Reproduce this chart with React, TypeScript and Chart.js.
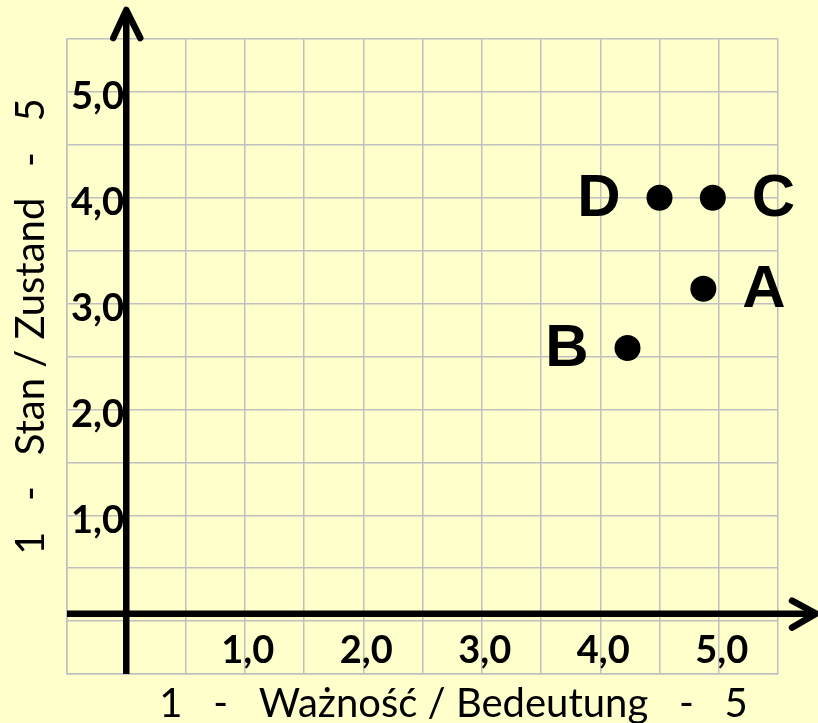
import { useEffect, useRef } from "react";
import { Chart, registerables } from "chart.js";

Chart.register(...registerables);

const pointNames = ["A", "B", "C", "D"];
const importanceValues = [4.87, 4.23, 4.95, 4.5];
const conditionValues = [3.14, 2.58, 4.0, 4.0];
const labelSides = ["right", "left", "right", "left"];
const tickValues = [1, 2, 3, 4, 5];
const xTitle = "1   -   Ważność / Bedeutung   -   5";
const yTitle = "1   -   Stan / Zustand   -   5";
const axisMin = -0.5;
const axisMax = 5.5;
const gridStep = 0.5;
const originX = 0;
const originY = 0.07;

const BG = "#FFFFCC";
const GRID = "#BFBFBF";

const fmt = (v: number) => (tickValues.includes(v) ? v.toFixed(1).replace(".", ",") : "");

const decorPlugin = {
  id: "decor",
  beforeDatasetsDraw(chart: any) {
    const { ctx, chartArea, scales } = chart;
    const x0 = scales.x.getPixelForValue(originX);
    const y0 = scales.y.getPixelForValue(originY);
    ctx.save();
    ctx.strokeStyle = "#000";
    ctx.lineWidth = 6.5;
    ctx.lineJoin = "round";
    // vertical axis
    const vTip = chartArea.top - 29;
    ctx.lineCap = "butt";
    ctx.beginPath();
    ctx.moveTo(x0, chartArea.bottom);
    ctx.lineTo(x0, vTip + 2);
    ctx.stroke();
    ctx.lineCap = "round";
    ctx.beginPath();
    ctx.moveTo(x0 - 13, vTip + 28);
    ctx.lineTo(x0, vTip);
    ctx.lineTo(x0 + 14, vTip + 28);
    ctx.stroke();
    // horizontal axis
    const hTip = chartArea.right + 38;
    ctx.lineCap = "butt";
    ctx.beginPath();
    ctx.moveTo(chartArea.left, y0);
    ctx.lineTo(hTip - 2, y0);
    ctx.stroke();
    ctx.lineCap = "round";
    ctx.beginPath();
    ctx.moveTo(hTip - 24, y0 - 13);
    ctx.lineTo(hTip, y0);
    ctx.lineTo(hTip - 24, y0 + 14);
    ctx.stroke();
    ctx.restore();
  },
  afterDraw(chart: any) {
    const { ctx, chartArea } = chart;
    ctx.save();
    ctx.fillStyle = "#000";
    // point labels
    const meta = chart.getDatasetMeta(0);
    ctx.font = "bold 60px 'Liberation Sans', Arial, sans-serif";
    ctx.textBaseline = "alphabetic";
    meta.data.forEach((el: any, i: number) => {
      const side = labelSides[i];
      ctx.textAlign = side === "right" ? "left" : "right";
      const dx = side === "right" ? 39 : -39;
      ctx.fillText(pointNames[i], el.x + dx, el.y + 18);
    });
    // axis titles
    ctx.font = "40px Lato, 'Open Sans', sans-serif";
    ctx.textAlign = "center";
    ctx.textBaseline = "alphabetic";
    const cx = (chartArea.left + chartArea.right) / 2 + 31;
    ctx.fillText(xTitle, cx, chartArea.bottom + 43);
    const cy = (chartArea.top + chartArea.bottom) / 2 - 30;
    ctx.translate(chartArea.left - 23, cy);
    ctx.rotate(-Math.PI / 2);
    ctx.fillText(yTitle, 0, 0);
    ctx.restore();
  },
};

export default function App() {
  const ref = useRef<HTMLCanvasElement | null>(null);
  useEffect(() => {
    if (!ref.current) return;
    const tickFont = { family: "Lato, 'Open Sans', sans-serif", size: 38, weight: "bold" as const, lineHeight: 1 };
    const chart = new Chart(ref.current, {
      type: "scatter",
      data: {
        datasets: [
          {
            label: "Punkty",
            data: importanceValues.map((x, i) => ({ x, y: conditionValues[i] })),
            backgroundColor: "#000",
            borderWidth: 0,
            pointRadius: 13,
            pointHoverRadius: 13,
          },
        ],
      },
      options: {
        animation: false,
        responsive: false,
        devicePixelRatio: 1,
        layout: { padding: { left: 59, right: 40, top: 39, bottom: 41 } },
        plugins: { legend: { display: false }, tooltip: { enabled: false } },
        scales: {
          x: {
            type: "linear",
            min: axisMin,
            max: axisMax,
            grid: { color: GRID, lineWidth: 1.5, drawTicks: false },
            border: { display: true, color: GRID, width: 1.5 },
            ticks: {
              stepSize: gridStep,
              autoSkip: false,
              maxTicksLimit: 30,
              maxRotation: 0,
              mirror: true,
              padding: 4,
              labelOffset: 3,
              color: "#000",
              font: tickFont,
              callback: (v: any) => fmt(Number(v)),
            },
          },
          y: {
            type: "linear",
            min: axisMin,
            max: axisMax,
            grid: { color: GRID, lineWidth: 1.5, drawTicks: false },
            border: { display: true, color: GRID, width: 1.5 },
            ticks: {
              stepSize: gridStep,
              autoSkip: false,
              maxTicksLimit: 30,
              mirror: true,
              padding: 4,
              labelOffset: 5,
              color: "#000",
              font: tickFont,
              callback: (v: any) => fmt(Number(v)),
            },
          },
        },
      },
      plugins: [decorPlugin],
    });
    return () => chart.destroy();
  }, []);
  return (
    <div style={{ position: "fixed", left: 0, top: 0, width: 818, height: 723, background: BG }}>
      <canvas ref={ref} width={818} height={723} style={{ display: "block", width: 818, height: 723 }} />
    </div>
  );
}
